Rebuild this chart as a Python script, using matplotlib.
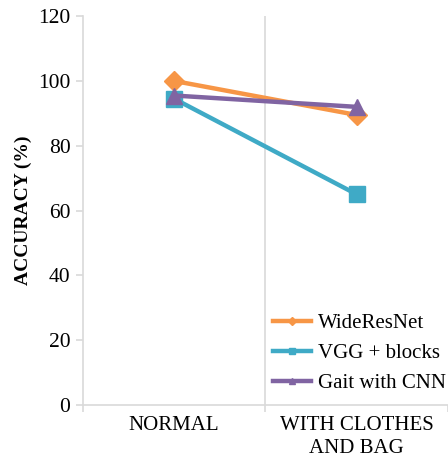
import numpy as np
import matplotlib.pyplot as plt

plt.rcParams['font.family'] = ['Liberation Serif', 'DejaVu Serif']

categories = ['NORMAL', 'WITH CLOTHES\nAND BAG']
wideresnet = [100, 89.5]
vgg_blocks = [94.5, 65]
gait_cnn = [95.5, 92]

fig = plt.figure(figsize=(4.48, 4.61), dpi=100)
ax = fig.add_axes([0.185, 0.1215, 0.815, 0.8435])

x = np.arange(len(categories)) + 0.5
ax.plot(x, wideresnet, color='#F79646', lw=3.2, marker='D', ms=10, label='WideResNet')
ax.plot(x, vgg_blocks, color='#3FAAC6', lw=3.2, marker='s', ms=11, label='VGG + blocks')
ax.plot(x, gait_cnn, color='#8064A2', lw=3.2, marker='^', ms=12, label='Gait with CNN')

ax.set_xlim(0, 2)
ax.set_ylim(0, 120)
ax.set_yticks(range(0, 121, 20))
ax.set_xticks(x)
ax.set_xticklabels(categories, linespacing=1.3)
ax.set_xticks([0, 1, 2], minor=True)
ax.axvline(1, color='#D9D9D9', lw=1.2, zorder=0)

for s in ['top', 'right']:
    ax.spines[s].set_visible(False)
for s in ['left', 'bottom']:
    ax.spines[s].set_color('#D9D9D9')
    ax.spines[s].set_linewidth(1.2)

ax.tick_params(axis='y', labelsize=15.5, length=5, color='#D9D9D9', width=1.2, pad=4)
ax.tick_params(axis='x', which='major', labelsize=15, length=0, pad=8)
ax.tick_params(axis='x', which='minor', length=5, color='#D9D9D9', width=1.2)

ax.set_ylabel('ACCURACY (%)', fontsize=14, fontweight='bold', labelpad=4)

leg = ax.legend(loc='lower left', bbox_to_anchor=(0.52, 0.03), frameon=False,
                fontsize=15, markerscale=0.4, handlelength=1.85,
                borderaxespad=0, labelspacing=0.5, handletextpad=0.33,
                borderpad=0)

fig.savefig('out.png', dpi=100)
